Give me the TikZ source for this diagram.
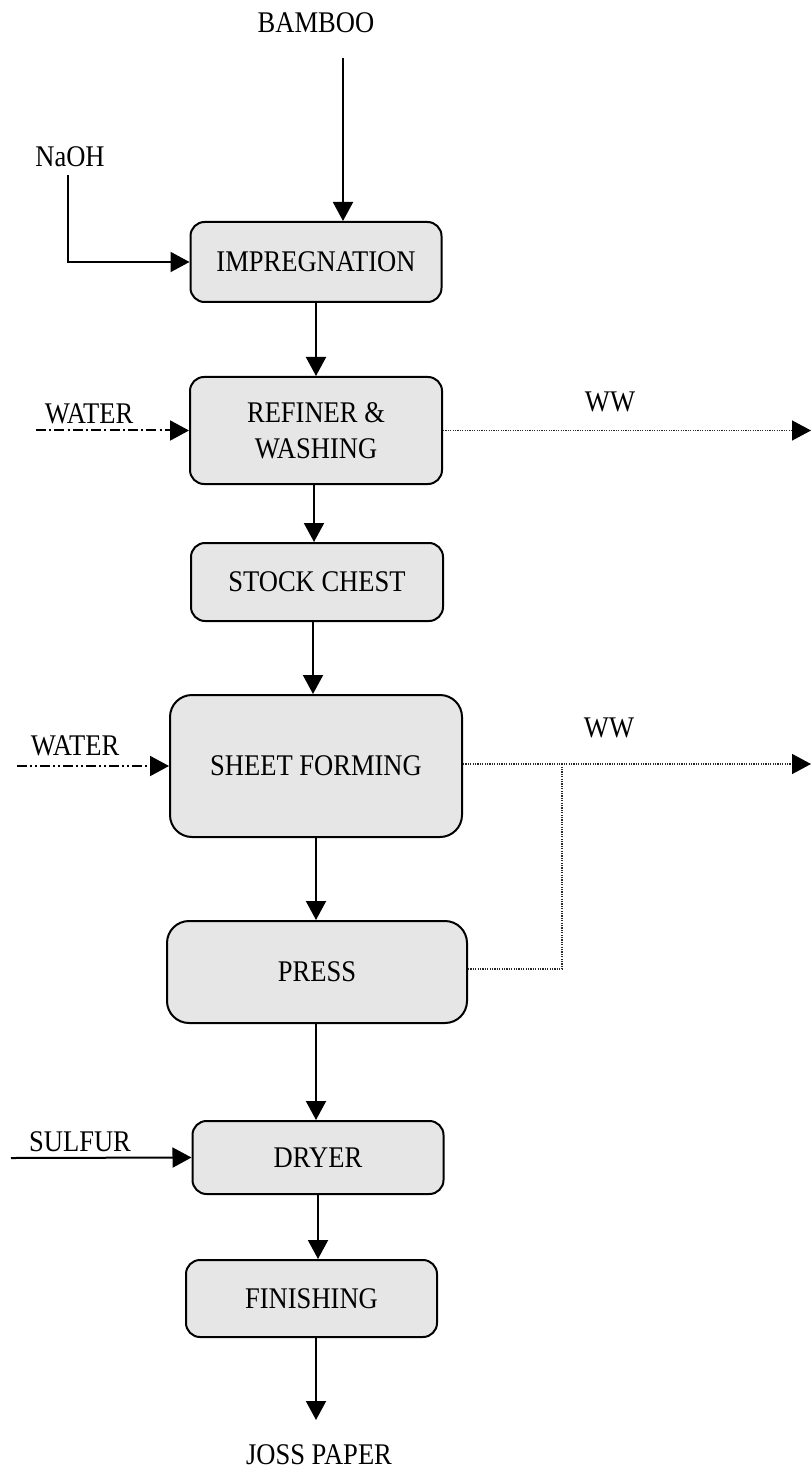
\documentclass[tikz,border=0pt]{standalone}
\usepackage{fontspec}
\setmainfont{Liberation Serif}[FakeStretch=0.885]
\usetikzlibrary{arrows.meta}
\definecolor{boxgray}{RGB}{230,230,230}
\definecolor{wwgray}{RGB}{40,40,40}
\begin{document}
\begin{tikzpicture}[x=0.5pt,y=-0.5pt,
  font=\fontsize{15pt}{18pt}\selectfont,
  unit/.style={draw=black, line width=1pt, fill=boxgray, rounded corners=7pt,
    align=center, inner sep=0pt},
  bigunit/.style={unit, rounded corners=11pt},
  label/.style={inner sep=0pt, align=center},
  head/.style={-{Triangle[length=9.5pt,width=10pt,black]}},
  flow/.style={head, line width=1pt},
  waterA/.style={head, line width=1pt, dash pattern=on 5pt off 1.6pt on 1pt off 1.6pt},
  waterB/.style={head, line width=1pt, dash pattern=on 5pt off 1.5pt on 1pt off 1.5pt on 1pt off 1.5pt},
  waste/.style={line width=0.7pt, draw=wwgray, dash pattern=on 0.6pt off 0.6pt}]
\useasboundingbox (0,0) rectangle (811,1470);

% process units
\node[unit, minimum width=125.5pt, minimum height=40pt] (imp) at (316,262) {IMPREGNATION};
\node[unit, minimum width=126pt, minimum height=53.5pt] (ref) at (316,430.5) {REFINER \&\\WASHING};
\node[unit, minimum width=126pt, minimum height=39pt] (stock) at (317,582) {STOCK CHEST};
\node[bigunit, minimum width=146pt, minimum height=71pt] (sheet) at (316,766) {SHEET FORMING};
\node[bigunit, minimum width=150pt, minimum height=51pt] (press) at (317,972) {PRESS};
\node[unit, minimum width=125.5pt, minimum height=36.5pt] (dryer) at (318,1157.5) {DRYER};
\node[unit, minimum width=125.5pt, minimum height=38.5pt] (finish) at (311.5,1298.5) {FINISHING};

% stream labels
\node[label] (bamboo) at (316,23) {BAMBOO};
\node[label] (naoh) at (70,157) {NaOH};
\node[label] (water1) at (89,414) {WATER};
\node[label] (ww1) at (610,402) {WW};
\node[label] (water2) at (75,746) {WATER};
\node[label] (ww2) at (609,728) {WW};
\node[label] (sulfur) at (80,1142) {SULFUR};
\node[label] (joss) at (319,1455) {JOSS PAPER};

% free stream ends
\coordinate (bamin) at (343,58);
\coordinate (naohin) at (68,175);
\coordinate (w1in) at (36,430.5);
\coordinate (w2in) at (17,766);
\coordinate (sin) at (11,1158);
\coordinate (ww1out) at (811,430.5);
\coordinate (ww2out) at (811,764);
\coordinate (wwjoin) at (562,764);
\coordinate (jossin) at (316,1420);

% main line
\draw[flow] (bamin) -- (bamin |- imp.north);
\draw[flow] (naohin) |- (imp.west);
\draw[flow] (imp.south) -- (ref.north);
\draw[flow] ([xshift=-1pt]ref.south) -- ([xshift=-1pt]ref.south |- stock.north);
\draw[flow] ([xshift=-2pt]stock.south) -- ([xshift=-2pt]stock.south |- sheet.north);
\draw[flow] (sheet.south) -- (sheet.south |- press.north);
\draw[flow] ([xshift=-0.5pt]press.south) -- ([xshift=-0.5pt]press.south |- dryer.north);
\draw[flow] (dryer.south) -- (dryer.south |- finish.north);
\draw[flow] ([xshift=2.25pt]finish.south) -- (jossin);

% water feeds and additive
\draw[waterA] (w1in) -- (ref.west);
\draw[waterB] (w2in) -- (sheet.west);
\draw[flow] (sin) -- (dryer.west);

% waste water
\draw[waste, head] (ref.east) -- (ww1out);
\draw[waste, head] (sheet.east |- ww2out) -- (ww2out);
\draw[waste] ([yshift=1.5pt]press.east) -| (wwjoin);
\end{tikzpicture}
\end{document}
